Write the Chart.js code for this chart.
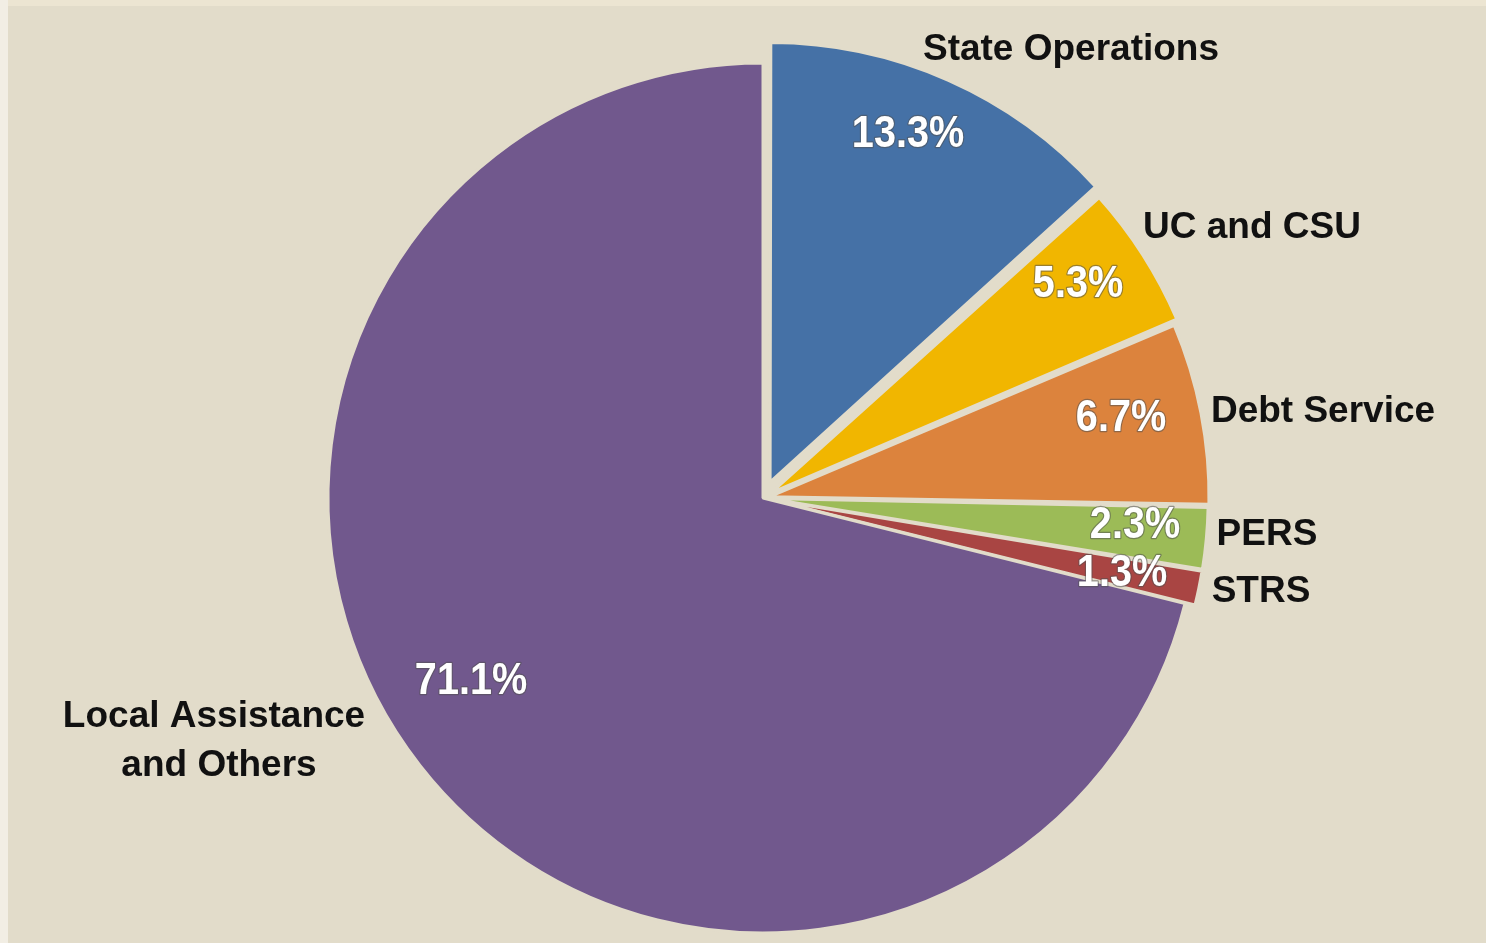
<!DOCTYPE html>
<html>
<head>
<meta charset="utf-8">
<script src="https://cdn.jsdelivr.net/npm/chart.js@4/dist/chart.umd.min.js"></script>
<style>
  html, body { margin: 0; padding: 0; }
  body { width: 1486px; height: 943px; background: #e2dcca; position: relative; overflow: hidden; }
  .strip-top { position: absolute; left: 0; top: 0; width: 1486px; height: 6px; background: #ece5d2; }
  .strip-left { position: absolute; left: 0; top: 0; width: 8px; height: 943px; background: #f2eee4; }
  #wrap { position: absolute; left: 0; top: 0; width: 1486px; height: 943px; }
</style>
</head>
<body>
<div class="strip-top"></div>
<div class="strip-left"></div>
<div id="wrap"><canvas id="pie"></canvas></div>
<script>
document.addEventListener("DOMContentLoaded", function () {

    const categories = ["State Operations", "UC and CSU", "Debt Service", "PERS", "STRS", "Local Assistance and Others"];
    const shares = [13.3, 5.3, 6.7, 2.3, 1.3, 71.1];
    const sliceColors = ["#4571a6", "#f1b600", "#dc833d", "#9cbb57", "#a94543", "#71588d"];
    const explode = [70, 38, 28, 22, 21, 0];

    // label placement, relative to the pie centre (x = centre of text, y = baseline)
    const pctPos = [[145, -351], [315, -201], [358, -67], [372, 40], [359, 88], [-292, 196]];
    const namePos = [
        [[308, -438]],
        [[489, -260]],
        [[560, -76]],
        [[504, 47]],
        [[498, 104]],
        [[-549, 229], [-544, 278]]
    ];
    const nameLines = [["State Operations"], ["UC and CSU"], ["Debt Service"], ["PERS"], ["STRS"], ["Local Assistance", "and Others"]];

    const bg = "#e2dcca";

    const labelPlugin = {
        id: "sliceLabels",
        afterDatasetsDraw(chart) {
            const ctx = chart.ctx;
            const meta = chart.getDatasetMeta(0);
            const cx = meta.data[5].x;
            const cy = meta.data[5].y;
            ctx.save();

            ctx.textAlign = "center";
            ctx.textBaseline = "alphabetic";
            ctx.font = "bold 37px 'Liberation Sans', Arial, sans-serif";
            ctx.fillStyle = "#111111";
            nameLines.forEach((lines, i) => {
                lines.forEach((line, j) => {
                    const p = namePos[i][j];
                    ctx.fillText(line, cx + p[0], cy + p[1]);
                });
            });

            ctx.font = "bold 44px 'Liberation Sans', Arial, sans-serif";
            ctx.lineJoin = "round";
            shares.forEach((v, i) => {
                const txt = v.toFixed(1) + "%";
                const p = pctPos[i];
                ctx.save();
                ctx.translate(cx + p[0], cy + p[1]);
                ctx.scale(0.9, 1);
                ctx.strokeStyle = "rgba(80,80,80,0.55)";
                ctx.lineWidth = 2.5;
                ctx.strokeText(txt, 0, 0);
                ctx.fillStyle = "#ffffff";
                ctx.fillText(txt, 0, 0);
                ctx.restore();
            });

            ctx.restore();
        }
    };

    const canvas = document.getElementById("pie");
    canvas.width = 1486;
    canvas.height = 943;

    new Chart(canvas.getContext("2d"), {
        type: "pie",
        data: {
            labels: categories,
            datasets: [{
                data: shares,
                backgroundColor: sliceColors,
                borderColor: bg,
                borderWidth: 3,
                offset: explode,
                clip: false
            }]
        },
        options: {
            responsive: false,
            animation: false,
            radius: 435,
            rotation: 0,
            layout: { padding: { left: 40, right: 0, top: 53, bottom: 0 } },
            plugins: {
                legend: { display: false },
                title: { display: false },
                tooltip: { enabled: false }
            }
        },
        plugins: [labelPlugin]
    });
});
</script>
</body>
</html>
